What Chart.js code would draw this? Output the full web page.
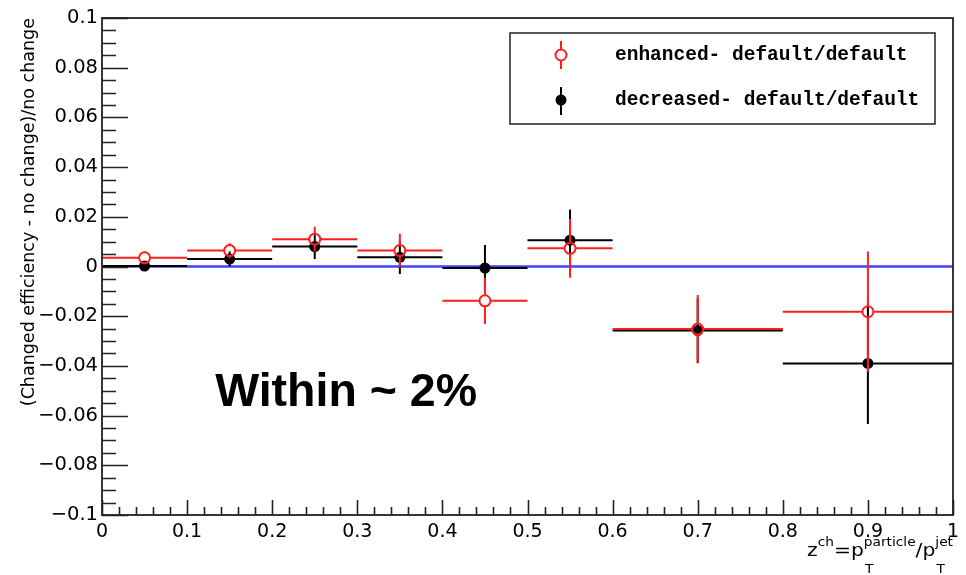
<!DOCTYPE html>
<html lang="en">
<head>
<meta charset="UTF-8">
<title>Efficiency variation ratio vs z</title>
<script src="https://cdn.jsdelivr.net/npm/chart.js@4"></script>
<style>
  html, body { margin: 0; padding: 0; background: #fff; }
  #wrap { width: 966px; height: 575px; }
</style>
</head>
<body>
<div id="wrap"><canvas id="ratioChart"></canvas></div>
<script>
// z^ch bins
const binLow    = [0.0, 0.1, 0.2, 0.3, 0.4, 0.5, 0.6, 0.8];
const binHigh   = [0.1, 0.2, 0.3, 0.4, 0.5, 0.6, 0.8, 1.0];
const binCenter = [0.05, 0.15, 0.25, 0.35, 0.45, 0.55, 0.7, 0.9];

// (changed - nominal)/nominal for the two tracking variations
const enhancedVals  = [0.0035, 0.0064, 0.0110, 0.0064, -0.0138, 0.0073, -0.0252, -0.0182];
const enhancedErrs  = [0.0025, 0.0030, 0.0050, 0.0068, 0.0093, 0.0118, 0.0137, 0.0242];
const decreasedVals = [0.0002, 0.0030, 0.0080, 0.0037, -0.0006, 0.0106, -0.0258, -0.0390];
const decreasedErrs = [0.0010, 0.0030, 0.0050, 0.0067, 0.0093, 0.0123, 0.0130, 0.0244];

const xTickLabels = ['0', '0.1', '0.2', '0.3', '0.4', '0.5', '0.6', '0.7', '0.8', '0.9', '1'];
const yTickLabels = ['\u22120.1', '\u22120.08', '\u22120.06', '\u22120.04', '\u22120.02', '0',
                     '0.02', '0.04', '0.06', '0.08', '0.1'];

const legendLabels = ['enhanced- default/default', 'decreased- default/default'];
const noteText = 'Within ~ 2%';
const notePos = { x: 0.133, y: -0.056 };

const RED = 'rgb(255,30,30)';
const BLACK = '#000';
const BLUE = 'rgb(65,65,255)';

const toPoints = vals => vals.map((v, i) => ({ x: binCenter[i], y: v }));

// horizontal bin-width bars and vertical error bars, drawn just before each dataset's markers
const errorBars = {
  id: 'errorBars',
  beforeDatasetDraw(chart, args) {
    const ds = chart.data.datasets[args.index];
    if (!ds.errorBars) return;
    const { ctx, scales: { x, y } } = chart;
    const gap = ds.hollow ? ds.pointRadius : 0;
    ctx.save();
    ctx.strokeStyle = ds.borderColor;
    ctx.lineWidth = 2;
    ds.data.forEach((p, i) => {
      const px = x.getPixelForValue(p.x);
      const py = y.getPixelForValue(p.y);
      const xl = x.getPixelForValue(binLow[i]);
      const xr = x.getPixelForValue(binHigh[i]);
      const yt = y.getPixelForValue(p.y + ds.errorBars[i]);
      const yb = y.getPixelForValue(p.y - ds.errorBars[i]);
      ctx.beginPath();
      ctx.moveTo(xl, py); ctx.lineTo(px - gap, py);
      ctx.moveTo(px + gap, py); ctx.lineTo(xr, py);
      if (yt < py - gap) { ctx.moveTo(px, yt); ctx.lineTo(px, py - gap); }
      if (yb > py + gap) { ctx.moveTo(px, py + gap); ctx.lineTo(px, yb); }
      ctx.stroke();
    });
    ctx.restore();
  }
};

// ROOT-like frame: box, inward ticks, legend, axis title with sub/superscripts, note
const frameDecor = {
  id: 'frameDecor',
  afterDraw(chart) {
    const { ctx, chartArea: a, scales: { x, y } } = chart;
    ctx.save();

    // frame
    ctx.strokeStyle = '#222';
    ctx.lineWidth = 1.8;
    ctx.strokeRect(a.left, a.top, a.right - a.left, a.bottom - a.top);

    // y ticks (major every 0.02, minor every 0.005)
    ctx.lineWidth = 1.6;
    ctx.beginPath();
    for (let k = 0; k <= 40; k++) {
      const v = y.min + k * 0.005;
      const py = Math.round(y.getPixelForValue(v)) + 0.5;
      const len = (k % 4 === 0) ? 26 : 14;
      ctx.moveTo(a.left, py); ctx.lineTo(a.left + len, py);
    }
    // x ticks (major every 0.1, minor every 0.02)
    for (let k = 0; k <= 50; k++) {
      const v = x.min + k * 0.02;
      const px = Math.round(x.getPixelForValue(v)) + 0.5;
      const len = (k % 5 === 0) ? 15 : 8;
      ctx.moveTo(px, a.bottom); ctx.lineTo(px, a.bottom - len);
    }
    ctx.stroke();

    // legend
    const lx = 510, ly = 33, lw = 425, lh = 91;
    ctx.fillStyle = '#fff';
    ctx.fillRect(lx, ly, lw, lh);
    ctx.strokeStyle = '#222';
    ctx.lineWidth = 1.5;
    ctx.strokeRect(lx, ly, lw, lh);

    const mx = 561;
    // enhanced entry
    ctx.strokeStyle = RED; ctx.lineWidth = 2;
    ctx.beginPath();
    ctx.moveTo(mx, 41); ctx.lineTo(mx, 49.5);
    ctx.moveTo(mx, 60.5); ctx.lineTo(mx, 69);
    ctx.stroke();
    ctx.beginPath(); ctx.arc(mx, 55, 5.5, 0, Math.PI * 2); ctx.stroke();
    // decreased entry
    ctx.strokeStyle = BLACK;
    ctx.beginPath(); ctx.moveTo(mx, 87); ctx.lineTo(mx, 115); ctx.stroke();
    ctx.fillStyle = BLACK;
    ctx.beginPath(); ctx.arc(mx, 100, 5.5, 0, Math.PI * 2); ctx.fill();

    ctx.font = 'bold 19.5px "Liberation Mono", "DejaVu Sans Mono", monospace';
    ctx.textAlign = 'left';
    ctx.textBaseline = 'alphabetic';
    ctx.fillStyle = '#000';
    ctx.fillText(legendLabels[0], 615, 59.5);
    ctx.fillText(legendLabels[1], 615, 104.5);

    // note
    ctx.font = 'bold 46.5px "Liberation Sans", Arial, sans-serif';
    ctx.fillStyle = '#000';
    ctx.fillText(noteText, x.getPixelForValue(notePos.x), y.getPixelForValue(notePos.y));

    // x axis title: z^ch = p_T^particle / p_T^jet
    const big = '18.5px "DejaVu Sans"';
    const small = '12.5px "DejaVu Sans"';
    const parts = [
      { t: 'z' }, { sup: 'ch' }, { t: '=p' }, { sup: 'particle', sub: 'T' }, { t: '/p' }, { sup: 'jet', sub: 'T' }
    ];
    parts.forEach(p => {
      if (p.t) { ctx.font = big; p.w = ctx.measureText(p.t).width; }
      else {
        ctx.font = small;
        p.w = Math.max(ctx.measureText(p.sup).width, p.sub ? ctx.measureText(p.sub).width : 0);
      }
    });
    const natural = parts.reduce((s, p) => s + p.w, 0);
    const targetW = 146;
    const stretch = targetW / natural;
    const base = 556;
    ctx.translate(a.right - targetW, 0);
    ctx.scale(stretch, 1);
    let cx = 0;
    parts.forEach(p => {
      if (p.t) {
        ctx.font = big;
        ctx.fillText(p.t, cx, base);
      } else {
        ctx.font = small;
        ctx.fillText(p.sup, cx, base - 10);
        if (p.sub) ctx.fillText(p.sub, cx + 1, base + 17);
      }
      cx += p.w;
    });

    ctx.restore();
  }
};

new Chart(document.getElementById('ratioChart'), {
  type: 'scatter',
  data: {
    datasets: [
      {
        label: 'zero',
        type: 'line',
        data: [{ x: 0, y: 0 }, { x: 1, y: 0 }],
        borderColor: BLUE,
        borderWidth: 2.5,
        pointRadius: 0,
        order: 3
      },
      {
        label: legendLabels[1],
        data: toPoints(decreasedVals),
        errorBars: decreasedErrs,
        borderColor: BLACK,
        backgroundColor: BLACK,
        pointRadius: 5.5,
        pointBorderWidth: 0,
        order: 2
      },
      {
        label: legendLabels[0],
        data: toPoints(enhancedVals),
        errorBars: enhancedErrs,
        hollow: true,
        borderColor: RED,
        backgroundColor: 'rgba(0,0,0,0)',
        pointRadius: 5.5,
        pointBorderWidth: 2,
        order: 1
      }
    ]
  },
  options: {
    responsive: true,
    maintainAspectRatio: false,
    animation: false,
    events: [],
    layout: { padding: { top: 18, right: 13, left: 0, bottom: 0 } },
    plugins: {
      legend: { display: false },
      tooltip: { enabled: false }
    },
    scales: {
      x: {
        type: 'linear',
        min: 0,
        max: 1,
        grid: { display: false, drawTicks: false },
        border: { display: false },
        afterFit(scale) { scale.height = 60; },
        ticks: {
          stepSize: 0.1,
          autoSkip: false,
          maxRotation: 0,
          padding: 6,
          color: '#000',
          font: { family: '"DejaVu Sans"', size: 19 },
          callback: (v, i) => xTickLabels[i]
        }
      },
      y: {
        type: 'linear',
        min: -0.1,
        max: 0.1,
        grid: { display: false, drawTicks: false },
        border: { display: false },
        afterFit(scale) { scale.width = 102; },
        ticks: {
          stepSize: 0.02,
          autoSkip: false,
          padding: 4,
          color: '#000',
          font: { family: '"DejaVu Sans"', size: 19.5 },
          callback: (v, i) => yTickLabels[i]
        },
        title: {
          display: true,
          text: '(Changed efficiency - no change)/no change',
          align: 'end',
          color: '#000',
          font: { family: '"DejaVu Sans"', size: 17.5 },
          padding: { top: 19, bottom: 0 }
        }
      }
    }
  },
  plugins: [errorBars, frameDecor]
});
</script>
</body>
</html>
